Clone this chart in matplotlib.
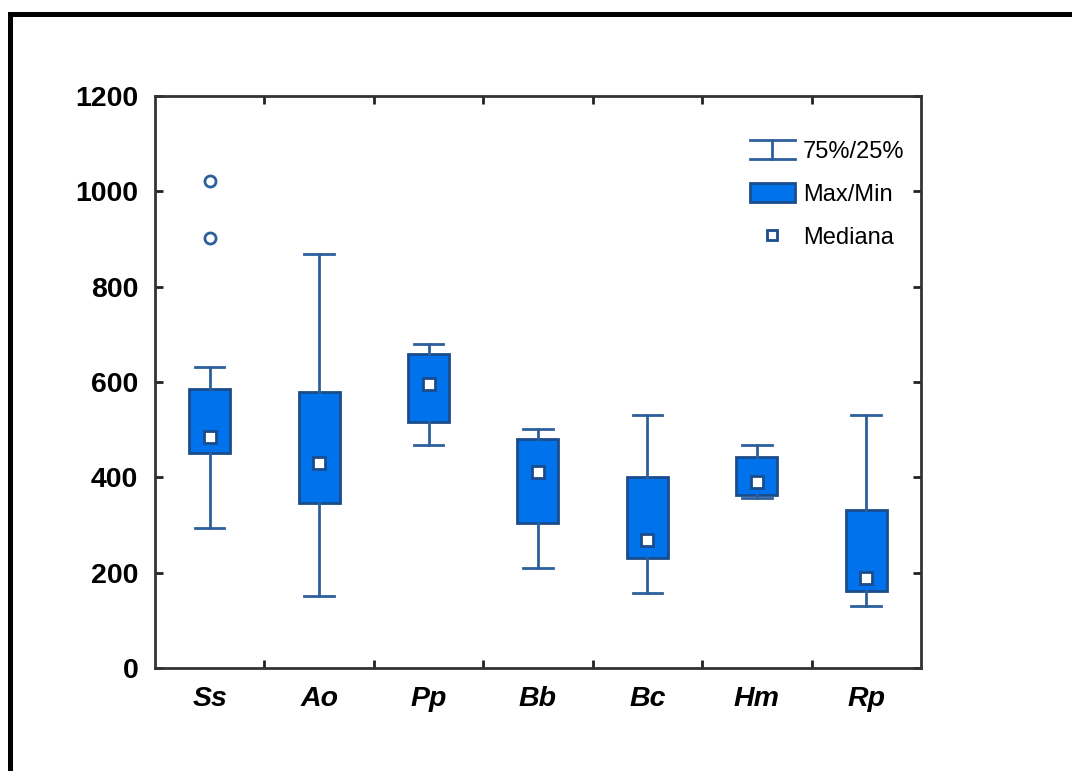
import matplotlib
matplotlib.use("Agg")
import matplotlib.pyplot as plt
import matplotlib.lines as mlines
import matplotlib.patches as mpatches
from matplotlib.legend_handler import HandlerBase

plt.rcParams["font.family"] = ["Liberation Sans", "DejaVu Sans"]

# values
species = ["Ss", "Ao", "Pp", "Bb", "Bc", "Hm", "Rp"]
whisker_hi = [631, 868, 680, 501, 531, 468, 531]
box_hi = [585, 579, 659, 480, 401, 443, 331]
medians = [485, 430, 596, 411, 269, 390, 189]
box_lo = [451, 346, 516, 304, 231, 363, 162]
whisker_lo = [294, 151, 468, 210, 157, 357, 130]
outliers = [[1022, 902], [], [], [], [], [], []]
y_ticks = [0, 200, 400, 600, 800, 1000, 1200]

box_fill = "#0073EC"
box_edge = "#1B4C8C"
whisk_col = "#2D5F9C"


class WhiskerHandler(HandlerBase):
    # the "I" shaped symbol for the legend
    def create_artists(self, legend, orig_handle, xdescent, ydescent,
                       width, height, fontsize, trans):
        x0, x1 = -xdescent, -xdescent + width
        xm = (x0 + x1) / 2
        y0, y1 = -ydescent, -ydescent + height
        kw = dict(color=whisk_col, linewidth=2, transform=trans)
        return [
            mlines.Line2D([x0, x1], [y1, y1], **kw),
            mlines.Line2D([x0, x1], [y0, y0], **kw),
            mlines.Line2D([xm, xm], [y0, y1], **kw),
        ]


fig = plt.figure(figsize=(10.72, 7.71), dpi=100)
ax = fig.add_axes([0.1446, 0.1336, 0.7145, 0.742])

stats = []
for i in range(len(species)):
    stats.append({
        "med": medians[i], "q1": box_lo[i], "q3": box_hi[i],
        "whislo": whisker_lo[i], "whishi": whisker_hi[i],
        "fliers": outliers[i], "label": species[i],
    })

positions = list(range(len(species)))
ax.bxp(stats, positions=positions, widths=0.375, patch_artist=True,
       showfliers=True,
       boxprops=dict(facecolor=box_fill, edgecolor=box_edge, linewidth=2),
       whiskerprops=dict(color=whisk_col, linewidth=2),
       capprops=dict(color=whisk_col, linewidth=2),
       capwidths=0.27,
       medianprops=dict(linewidth=0),
       flierprops=dict(marker="o", markersize=8, markerfacecolor="white",
                       markeredgecolor=whisk_col, markeredgewidth=2))

ax.plot(positions, medians, linestyle="none", marker="s", markersize=9,
        markerfacecolor="white", markeredgecolor=box_edge,
        markeredgewidth=2, zorder=5)

ax.set_xlim(-0.5, len(species) - 0.5)
ax.set_ylim(0, 1200)
ax.set_yticks(y_ticks)
ax.set_yticklabels([str(t) for t in y_ticks], fontsize=20.5, fontweight="bold")
ax.set_xticks(positions)
ax.set_xticklabels(species, fontsize=20.5, fontweight="bold", style="italic")
ax.set_xticks([p + 0.5 for p in positions[:-1]], minor=True)

ax.tick_params(axis="x", which="major", length=0, pad=13)
ax.tick_params(axis="x", which="minor", direction="in", length=6, width=2,
               top=True, bottom=True, color="#222222")
ax.tick_params(axis="y", which="major", direction="in", length=6, width=2,
               left=True, right=True, pad=12, color="#222222")

for sp in ax.spines.values():
    sp.set_linewidth(2)
    sp.set_color("#333333")

h_whisk = mlines.Line2D([], [])
h_box = mpatches.Patch(facecolor=box_fill, edgecolor=box_edge, linewidth=2)
h_med = mlines.Line2D([], [], linestyle="none", marker="s", markersize=7,
                      markerfacecolor="white", markeredgecolor=box_edge,
                      markeredgewidth=2)
ax.legend([h_whisk, h_box, h_med], ["75%/25%", "Max/Min", "Mediana"],
          handler_map={h_whisk: WhiskerHandler()},
          loc="upper right", bbox_to_anchor=(0.997, 0.948), frameon=False,
          fontsize=17, handlelength=1.9, handleheight=0.9, handletextpad=0.35,
          labelspacing=0.85, borderaxespad=0.2)

# outer frame (only left and top visible, the rest is cropped)
fx = 10 / 1072
fy = 1 - 14 / 771
fig.add_artist(mlines.Line2D([fx, fx, 1.0], [0.0, fy, fy], color="black",
                             linewidth=3.6, transform=fig.transFigure,
                             solid_joinstyle="miter"))

fig.savefig("out.png", dpi=100, facecolor="white")
